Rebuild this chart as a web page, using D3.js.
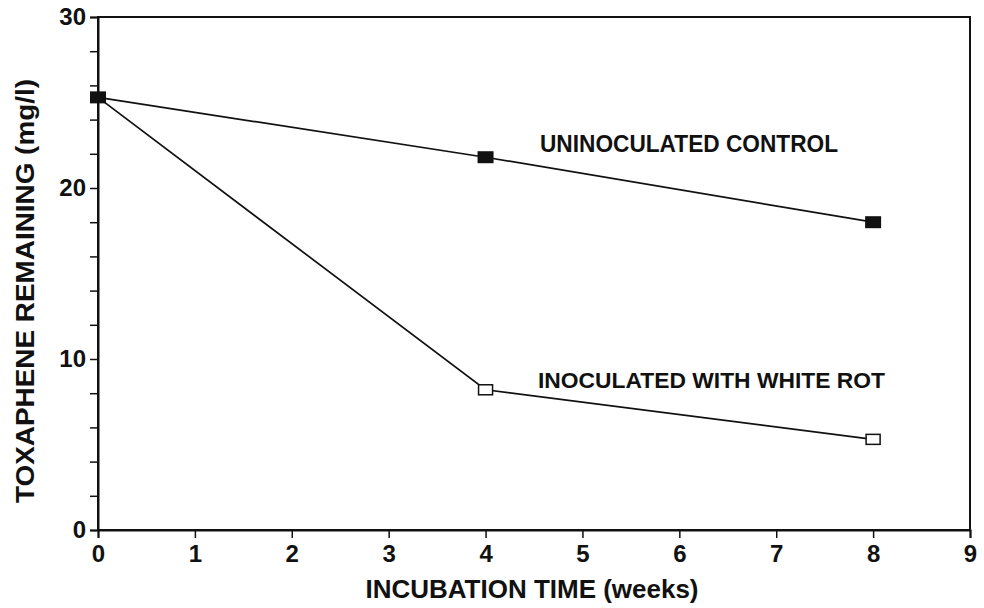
<!DOCTYPE html>
<html><head><meta charset="utf-8">
<script src="https://cdn.jsdelivr.net/npm/d3@7"></script>
<style>body{margin:0;background:#fff}svg text{font-family:"Liberation Sans",Arial,sans-serif;font-weight:bold;fill:#111}</style>
</head><body><svg id="c" width="984" height="608"></svg>
<script>
const weeks = [0, 4, 8];
const controlValues = [25.3, 21.8, 18.0];
const inoculatedValues = [25.3, 8.2, 5.3];
const xTicks = [0,1,2,3,4,5,6,7,8,9];
const yTicks = [0,2,4,6,8,10,12,14,16,18,20,22,24,26,28,30];
const yLabels = [0,10,20,30];
const seriesNames = ["UNINOCULATED CONTROL", "INOCULATED WITH WHITE ROT"];

const svg = d3.select("#c");
const x = d3.scaleLinear().domain([0,9]).range([98,970]);
const y = d3.scaleLinear().domain([0,30]).range([530,17]);

svg.append("rect").attr("x",x(0)).attr("y",y(30)).attr("width",x(9)-x(0)).attr("height",y(0)-y(30))
  .attr("fill","none").attr("stroke","#111").attr("stroke-width",2);

const xa = svg.append("g").attr("transform",`translate(0,${y(0)})`)
  .call(d3.axisBottom(x).tickValues(xTicks).tickSize(8).tickPadding(7).tickFormat(d3.format("d")));
const ya = svg.append("g").attr("transform",`translate(${x(0)},0)`)
  .call(d3.axisLeft(y).tickValues(yTicks).tickSize(8).tickPadding(4).tickFormat(d=>yLabels.includes(d)?d:""));
[xa,ya].forEach(a=>{a.select(".domain").attr("stroke","#111").attr("stroke-width",2);
  a.selectAll(".tick line").attr("stroke","#111").attr("stroke-width",1.5);
  a.selectAll(".tick text").attr("font-size",24).attr("font-family",null).attr("fill","#111");});

const line = d3.line().x((d,i)=>x(weeks[i])).y(d=>y(d));
[controlValues, inoculatedValues].forEach(vals=>{
  svg.append("path").datum(vals).attr("d",line).attr("fill","none").attr("stroke","#111").attr("stroke-width",1.7);
});
svg.selectAll(".mc").data(controlValues).enter().append("rect")
  .attr("x",(d,i)=>x(weeks[i])-8).attr("y",d=>y(d)-6).attr("width",16).attr("height",12).attr("fill","#111");
svg.selectAll(".mi").data(inoculatedValues).enter().filter((d,i)=>i>0).append("rect")
  .attr("x",(d,i)=>x(weeks[i+1])-7).attr("y",d=>y(d)-5).attr("width",14).attr("height",10)
  .attr("fill","#fff").attr("stroke","#111").attr("stroke-width",1.5);

const lbl = (sel)=>sel.attr("lengthAdjust","spacingAndGlyphs");
lbl(svg.append("text").attr("x",540).attr("y",152).attr("font-size",24).attr("textLength",298).text(seriesNames[0]));
lbl(svg.append("text").attr("x",538).attr("y",388).attr("font-size",22).attr("textLength",347).text(seriesNames[1]));

lbl(svg.append("text").attr("x",532).attr("y",598).attr("font-size",25).attr("text-anchor","middle")
  .attr("textLength",333).text("INCUBATION TIME (weeks)"));
lbl(svg.append("text").attr("transform","translate(34,291) rotate(-90)").attr("font-size",26).attr("text-anchor","middle")
  .attr("textLength",424).text("TOXAPHENE REMAINING (mg/l)"));
</script></body></html>
